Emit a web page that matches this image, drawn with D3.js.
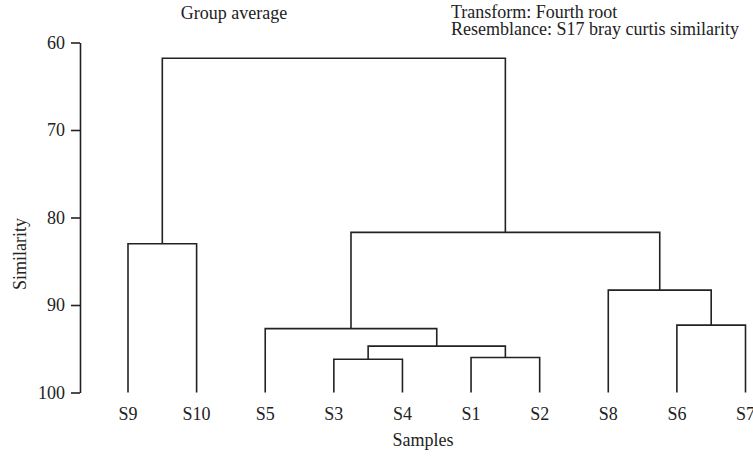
<!DOCTYPE html>
<html>
<head>
<meta charset="utf-8">
<script src="https://cdn.jsdelivr.net/npm/d3@7"></script>
<style>
  body { margin: 0; background: #fff; }
  text { font-family: "Liberation Serif", "Times New Roman", serif; fill: #222; }
</style>
</head>
<body>
<div id="chart"></div>
<script>
// leaf order along the x axis
const samples = ["S9", "S10", "S5", "S3", "S4", "S1", "S2", "S8", "S6", "S7"];

// merges: children are sample names or "m<index>" of an earlier merge
const mergeA   = ["S9", "S3", "S1", "m1", "S5", "S6", "S8", "m4", "m0"];
const mergeB   = ["S10", "S4", "S2", "m2", "m3", "S7", "m5", "m6", "m7"];
const mergeSim = [83.0, 96.2, 96.0, 94.7, 92.7, 92.3, 88.3, 81.7, 61.8];

const yTicks = [60, 70, 80, 90, 100];
const noteLines = ["Transform: Fourth root", "Resemblance: S17 bray curtis similarity"];

const width = 753;
const height = 457;

const svg = d3.select("#chart")
  .append("svg")
  .attr("width", width)
  .attr("height", height);

const x = d3.scalePoint()
  .domain(samples)
  .range([128, 745.5]);

const y = d3.scaleLinear()
  .domain([60, 100])
  .range([42.5, 392.5]);

// position of any node (leaf or merge)
const pos = {};
samples.forEach(s => { pos[s] = { x: x(s), y: y(100) }; });
mergeSim.forEach((s, i) => {
  const a = pos[mergeA[i]], b = pos[mergeB[i]];
  pos["m" + i] = { x: (a.x + b.x) / 2, y: y(s) };
});

svg.append("g")
  .attr("fill", "none")
  .attr("stroke", "#222")
  .attr("stroke-width", 1.6)
  .selectAll("path")
  .data(mergeSim.map((s, i) => ({ a: pos[mergeA[i]], b: pos[mergeB[i]], sim: s })))
  .join("path")
  .attr("d", d => `M${d.a.x},${d.a.y}V${y(d.sim)}H${d.b.x}V${d.b.y}`);

// Y axis
const yAxis = svg.append("g")
  .attr("transform", "translate(80,0)")
  .call(d3.axisLeft(y).tickValues(yTicks).tickSize(9).tickSizeOuter(0).tickPadding(6));
yAxis.select(".domain").attr("stroke", "#222").attr("stroke-width", 1.6);
yAxis.selectAll(".tick line").attr("stroke", "#222").attr("stroke-width", 1.6);
yAxis.selectAll(".tick text")
  .attr("font-family", "Liberation Serif, serif")
  .attr("font-size", 18)
  .attr("fill", "#222");

// sample labels
svg.append("g")
  .selectAll("text")
  .data(samples)
  .join("text")
  .attr("x", d => x(d))
  .attr("y", 420)
  .attr("text-anchor", "middle")
  .attr("font-size", 18)
  .text(d => d);

svg.append("text")
  .attr("x", 423)
  .attr("y", 446)
  .attr("text-anchor", "middle")
  .attr("font-size", 18)
  .text("Samples");

svg.append("text")
  .attr("transform", "translate(26,254) rotate(-90)")
  .attr("text-anchor", "middle")
  .attr("font-size", 18)
  .text("Similarity");

svg.append("text")
  .attr("x", 234)
  .attr("y", 19)
  .attr("text-anchor", "middle")
  .attr("font-size", 18)
  .text("Group average");

// two-line note, one text element
svg.append("text")
  .attr("font-size", 18)
  .selectAll("tspan")
  .data(noteLines)
  .join("tspan")
  .attr("x", 451)
  .attr("y", (d, i) => 18 + i * 16.5)
  .text(d => d);
</script>
</body>
</html>
